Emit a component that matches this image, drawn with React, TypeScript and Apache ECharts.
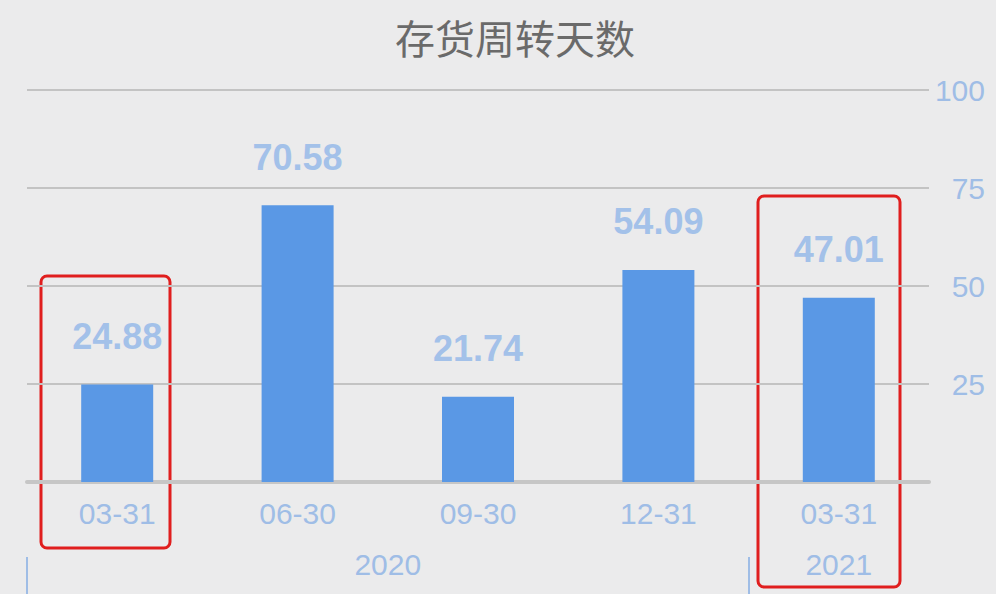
import React, { useEffect, useRef } from 'react';
import * as echarts from 'echarts';

// 存货周转天数（季度）
const categories = ['03-31', '06-30', '09-30', '12-31', '03-31'];
const turnoverDays = [24.88, 70.58, 21.74, 54.09, 47.01];
// 年份分组：[起始类目索引, 结束类目索引]
const years = ['2020', '2021'];
const yearSpans = [
  [0, 4],
  [4, 5]
];
const yTicks = [0, 25, 50, 75, 100];

const labelBlue = '#9fbde6';
const barBlue = '#5a98e5';

const App: React.FC = () => {
  const chartRef = useRef<HTMLDivElement>(null);

  useEffect(() => {
    document.body.style.margin = '0';
    if (!chartRef.current) return;
    const chart = echarts.init(chartRef.current, undefined, { renderer: 'svg' });

    const yearLabelAt = yearSpans.map(([a, b]) => (a + b) / 2);
    const yearTickAt = yearSpans.map(([a]) => a);

    const option: echarts.EChartsOption = {
      animation: false,
      backgroundColor: '#ebebec',
      title: {
        text: '存货周转天数',
        left: 510,
        top: 12,
        textAlign: 'center',
        textStyle: {
          fontFamily: 'Noto Sans CJK SC',
          fontSize: 40,
          fontWeight: 'normal',
          color: '#6a6a6a'
        }
      },
      grid: {
        left: 27,
        right: 67,
        top: 90,
        bottom: 112
      },
      xAxis: [
        {
          type: 'category',
          data: categories,
          axisLine: { lineStyle: { color: '#c6c6c6', width: 4 } },
          axisTick: { show: false },
          axisLabel: {
            margin: 16,
            fontFamily: 'Liberation Sans',
            fontSize: 30,
            color: labelBlue
          }
        },
        {
          type: 'value',
          position: 'bottom',
          offset: 75,
          min: 0,
          max: categories.length,
          splitLine: { show: false },
          axisLine: { show: false },
          axisTick: {
            show: true,
            length: 40,
            customValues: yearTickAt,
            lineStyle: { color: labelBlue, width: 2 }
          },
          axisLabel: {
            margin: -8,
            customValues: yearLabelAt,
            formatter: (v: number) => years[yearLabelAt.indexOf(v)] ?? '',
            fontFamily: 'Liberation Sans',
            fontSize: 30,
            color: labelBlue
          }
        }
      ],
      yAxis: {
        type: 'value',
        position: 'right',
        min: yTicks[0],
        max: yTicks[yTicks.length - 1],
        interval: 25,
        axisLine: { show: false },
        axisTick: { show: false },
        splitLine: { lineStyle: { color: '#c3c3c3', width: 2 } },
        axisLabel: {
          showMinLabel: false,
          align: 'right',
          margin: 56,
          fontFamily: 'Liberation Sans',
          fontSize: 30,
          color: labelBlue
        }
      },
      series: [
        {
          type: 'bar',
          data: turnoverDays,
          barWidth: 72,
          itemStyle: { color: barBlue },
          label: {
            show: true,
            position: 'top',
            distance: 30,
            formatter: (p: any) => p.value.toFixed(2),
            fontFamily: 'Liberation Sans',
            fontSize: 36,
            fontWeight: 'bold',
            color: '#a3c1e9'
          }
        }
      ],
      // 红色标注框
      graphic: [
        {
          type: 'rect',
          shape: { x: 41, y: 276, width: 129, height: 272, r: 6 },
          style: { fill: 'none', stroke: '#e01e1e', lineWidth: 3 }
        },
        {
          type: 'rect',
          shape: { x: 758, y: 196, width: 142, height: 391, r: 6 },
          style: { fill: 'none', stroke: '#e01e1e', lineWidth: 3 }
        }
      ]
    };

    chart.setOption(option);
    return () => chart.dispose();
  }, []);

  return <div ref={chartRef} style={{ width: 996, height: 594 }} />;
};

export default App;
